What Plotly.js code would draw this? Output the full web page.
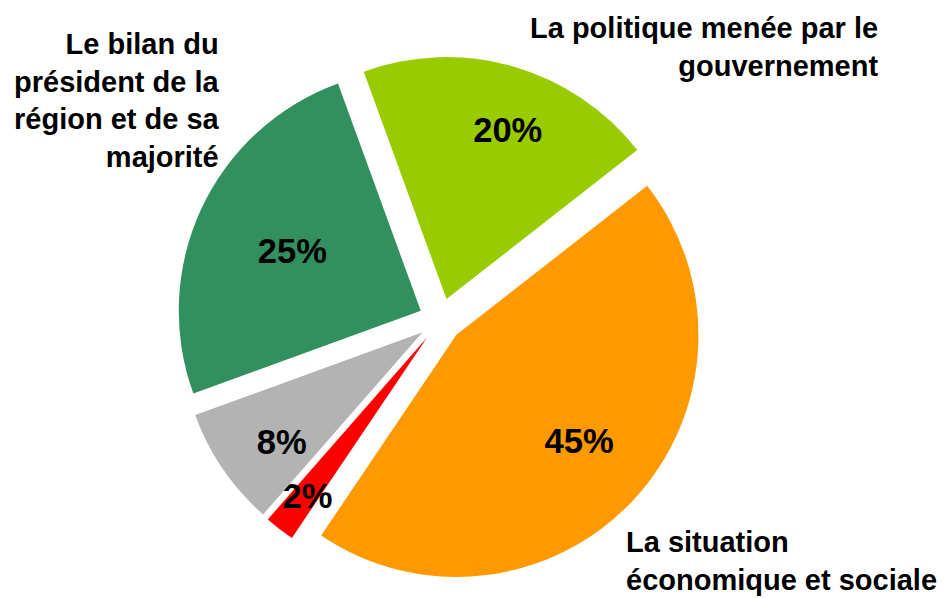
<!DOCTYPE html>
<html>
<head>
<meta charset="utf-8">
<script src="https://cdn.plot.ly/plotly-3.0.1.min.js"></script>
<style>html,body{margin:0;padding:0;background:#fff;}#chart{width:944px;height:598px;}</style>
</head>
<body>
<div id="chart"></div>
<script>
var categories = [
  "La politique menée par le gouvernement",
  "La situation économique et sociale",
  "Autre",
  "Ne se prononcent pas",
  "Le bilan du président de la région et de sa majorité"
];
var values = [20, 45, 2, 8, 25];
var colors = ["#99cc00", "#ff9900", "#ff0000", "#b3b3b3", "#32905f"];
var labelTexts = [
  "La politique menée par le<br>gouvernement",
  "La situation<br>économique et sociale",
  "Le bilan du<br>président de la<br>région et de sa<br>majorité"
];

var FONT = '"Liberation Sans", Arial, Helvetica, sans-serif';
var NB = '&nbsp;';
function pad(n) { var s = ''; for (var i = 0; i < n; i++) s += NB; return s; }

// Per-slice label templates: padding nudges the percentage towards the
// spot used in the original chart (the pie places text at the slice's inscribed centre).
var templates = [
  '<b>' + pad(4) + '%{value}%</b><br><b>' + NB + '</b>',
  '<b>' + NB + '</b><br><b>' + pad(7) + '%{value}%</b>',
  '<b>' + pad(4) + '%{value}%</b><br><b>' + NB + '</b>',
  '<b>' + pad(4) + '%{value}%</b>',
  '<b>%{value}%</b>'
];

var trace = {
  type: 'pie',
  labels: categories,
  values: values,
  sort: false,
  direction: 'clockwise',
  rotation: -20,
  pull: values.map(function(){ return 0.09; }),
  marker: {colors: colors, line: {width: 0}},
  texttemplate: templates,
  textposition: 'inside',
  insidetextorientation: 'horizontal',
  insidetextfont: {family: FONT, size: 35, color: '#000'},
  hoverinfo: 'none',
  showlegend: false,
  domain: {x: [0.1872, 0.7461], y: [0.0237, 0.906]}
};

var layout = {
  width: 944,
  height: 598,
  margin: {l: 0, r: 0, t: 0, b: 0},
  paper_bgcolor: '#ffffff',
  font: {family: FONT},
  uniformtext: {mode: 'show', minsize: 34},
  annotations: [
    {text: '<b>' + labelTexts[0] + '</b>', xref: 'paper', yref: 'paper', x: 0.932, y: 0.921,
     xanchor: 'right', yanchor: 'middle', align: 'right', showarrow: false,
     font: {family: FONT, size: 29, color: '#000'}},
    {text: '<b>' + labelTexts[1] + '</b>', xref: 'paper', yref: 'paper', x: 0.661, y: 0.062,
     xanchor: 'left', yanchor: 'middle', align: 'left', showarrow: false,
     font: {family: FONT, size: 29, color: '#000'}},
    {text: '<b>' + labelTexts[2] + '</b>', xref: 'paper', yref: 'paper', x: 0.235, y: 0.832,
     xanchor: 'right', yanchor: 'middle', align: 'right', showarrow: false,
     font: {family: FONT, size: 29, color: '#000'}}
  ]
};

Plotly.newPlot('chart', [trace], layout, {staticPlot: true, displayModeBar: false});
</script>
</body>
</html>
